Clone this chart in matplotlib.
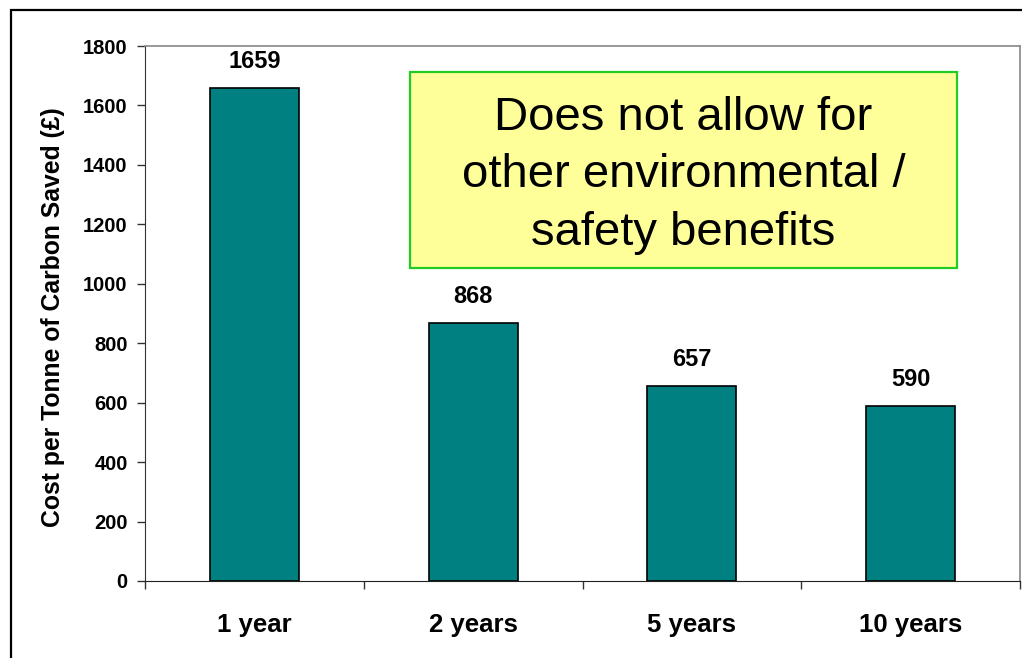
import matplotlib.pyplot as plt
from matplotlib.patches import Rectangle

plt.rcParams['font.family'] = ['Liberation Sans', 'DejaVu Sans']

# Data
periods = ['1 year', '2 years', '5 years', '10 years']
cost_per_tonne = [1659, 868, 657, 590]
y_ticks = [0, 200, 400, 600, 800, 1000, 1200, 1400, 1600, 1800]
note = 'Does not allow for\nother environmental /\nsafety benefits'

# Styling
bar_color = '#008080'
note_fill = '#FFFF99'
note_edge = '#22CC22'

fig = plt.figure(figsize=(10.22, 6.58), dpi=100)
ax = fig.add_axes([145 / 1022, 1 - 581 / 658, 875 / 1022, 535 / 658])

x = range(len(periods))
ax.bar(x, cost_per_tonne, width=0.407, color=bar_color, edgecolor='black', linewidth=1.2, zorder=2)

for xi, v in zip(x, cost_per_tonne):
    ax.annotate(str(v), (xi, v), xytext=(0, 14.5), textcoords='offset points',
                ha='center', va='baseline', fontsize=17, fontweight='bold')

ax.set_xlim(-0.5, len(periods) - 0.5)
ax.set_ylim(0, 1800)
ax.set_yticks(y_ticks)
ax.set_yticklabels([str(t) for t in y_ticks], fontsize=14.5, fontweight='bold')
ax.tick_params(axis='y', direction='out', length=6, width=1, pad=6.5, color='#333333')

ax.set_xticks(list(x))
ax.set_xticklabels(periods, fontsize=18.5, fontweight='bold')
ax.set_xticks([i - 0.5 for i in range(len(periods) + 1)], minor=True)
ax.tick_params(axis='x', which='major', length=0, pad=23)
ax.tick_params(axis='x', which='minor', direction='out', length=6, width=1, color='#333333')

ax.set_ylabel('Cost per Tonne of Carbon Saved (£)', fontsize=17.8, fontweight='bold')
ax.yaxis.set_label_coords(-0.091, 0.493)

for side in ['top', 'right']:
    ax.spines[side].set_color('#888888')
    ax.spines[side].set_linewidth(1.2)
ax.spines['left'].set_color('#333333')
ax.spines['bottom'].set_color('#222222')

# outer chart frame (clipped at right and bottom)
fig.patches.append(Rectangle((11 / 1022, -0.1), 1.2, 1.1 - 10 / 658, transform=fig.transFigure,
                             fill=False, edgecolor='black', linewidth=1.6))

# note box
bx0, bx1 = 410 / 1022, 957 / 1022
by0, by1 = 1 - 268 / 658, 1 - 72 / 658
fig.patches.append(Rectangle((bx0, by0), bx1 - bx0, by1 - by0, transform=fig.transFigure,
                             facecolor=note_fill, edgecolor=note_edge, linewidth=1.6, zorder=3))
fig.text((bx0 + bx1) / 2, 1 - 245 / 658, note, ha='center', va='baseline',
         fontsize=34, linespacing=1.4, zorder=4)

fig.savefig('out.png', dpi=100)
